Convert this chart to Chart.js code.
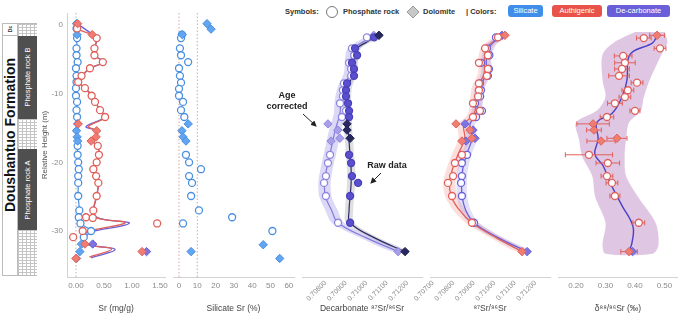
<!DOCTYPE html>
<html>
<head>
<meta charset="utf-8">
<script src="https://cdn.jsdelivr.net/npm/chart.js@4.4.0/dist/chart.umd.min.js"></script>
<style>
  body { margin: 0; width: 678px; height: 322px; position: relative; overflow: hidden; background: #fff;
         font-family: "Liberation Sans", Arial, sans-serif; }
  canvas { position: absolute; top: 0; }
  .abs { position: absolute; }
  .rot { position: absolute; transform: translate(-50%, -50%) rotate(-90deg); white-space: nowrap; }
  .hatch { position: absolute; left: 18px; width: 19px; background-color: #fff;
           background-image: linear-gradient(#c4c4c4 1px, transparent 1px), linear-gradient(90deg, #c4c4c4 1px, transparent 1px);
           background-size: 4px 3px; }
  .phos { position: absolute; left: 18px; width: 19px; background: #4f4f4f; }
  .lg { position: absolute; top: 6px; font-size: 7.5px; font-weight: bold; color: #333; line-height: 12px; }
  .badge { position: absolute; top: 5px; height: 12px; line-height: 12px; border-radius: 3px; color: #fff;
           font-size: 7.5px; text-align: center; }
  .note { position: absolute; font-size: 9px; font-weight: bold; color: #222; text-align: center; line-height: 11px; }
</style>
</head>
<body>

<!-- stratigraphic column -->
<div class="abs" style="left:2px;top:23px;width:35px;height:253px;border:1px solid #bbb;box-sizing:border-box;"></div>
<div class="abs" style="left:17px;top:23px;width:1px;height:253px;background:#bbb;"></div>
<div class="abs" style="left:2px;top:35px;width:16px;height:1px;background:#bbb;"></div>
<div class="rot" style="left:10px;top:29px;font-size:5px;font-weight:bold;color:#333;">Dc</div>
<div class="rot" style="left:10px;top:135px;font-size:14px;font-weight:bold;color:#111;">Doushantuo Formation</div>
<div class="hatch" style="top:24px;height:12px;"></div>
<div class="phos" style="top:36px;height:83px;"></div>
<div class="rot" style="left:27px;top:77px;font-size:7.5px;color:#fff;">Phosphate rock B</div>
<div class="hatch" style="top:119px;height:30px;"></div>
<div class="phos" style="top:149px;height:81px;"></div>
<div class="rot" style="left:27px;top:190px;font-size:7.5px;color:#fff;">Phosphate rock A</div>
<div class="hatch" style="top:230px;height:45px;"></div>

<!-- legend -->
<div class="lg" style="left:285px;">Symbols:</div>
<svg class="abs" style="left:325px;top:5px;" width="14" height="14"><circle cx="7" cy="7" r="5.5" fill="#fff" stroke="#777" stroke-width="1"/></svg>
<div class="lg" style="left:343px;">Phosphate rock</div>
<svg class="abs" style="left:406px;top:5px;" width="14" height="14"><polygon points="7,1 13,7 7,13 1,7" fill="#c8c8c8" stroke="#999" stroke-width="1"/></svg>
<div class="lg" style="left:423px;">Dolomite</div>
<div class="lg" style="left:466px;">| Colors:</div>
<div class="badge" style="left:508px;width:35px;background:#3f8fea;">Silicate</div>
<div class="badge" style="left:552px;width:50px;background:#e8524a;">Authigenic</div>
<div class="badge" style="left:607px;width:63px;background:#6a5fd8;">De-carbonate</div>

<canvas id="c1"></canvas>
<canvas id="c2"></canvas>
<canvas id="c3"></canvas>
<canvas id="c4"></canvas>
<canvas id="c5"></canvas>

<!-- annotations -->
<div class="note" style="left:262px;top:90px;width:50px;">Age<br>corrected</div>
<div class="note" style="left:362px;top:160px;width:50px;">Raw data</div>
<svg class="abs" style="left:0;top:0;" width="678" height="322">
  <defs><marker id="ah" markerWidth="6" markerHeight="6" refX="5" refY="3" orient="auto">
    <path d="M0,0 L6,3 L0,6 z" fill="#222"/></marker></defs>
  <line x1="303" y1="114" x2="316" y2="126" stroke="#222" stroke-width="1" marker-end="url(#ah)"/>
  <line x1="381" y1="173" x2="371" y2="183" stroke="#222" stroke-width="1" marker-end="url(#ah)"/>
</svg>

<script>
// ---- shared height axis (m) ----
const heightTicks = [0, -10, -20, -30];
const heightMin = -36.7;
const heightMax = 1.75;

// ---- panel 1: Sr (mg/g) ---- [height, value]
const srTicks = [0, 0.5, 1, 1.5];
const srAuthCircles = [[-0.5, 0.02], [-1.9, 0.37], [-3.4, 0.33], [-4.4, 0.33], [-5.4, 0.48], [-6.3, 0.25], [-7.4, 0.1],
  [-8.3, 0.04], [-9.2, 0.16], [-10.3, 0.28], [-11.2, 0.34], [-12.4, 0.43], [-13.4, 0.52], [-17.6, 0.39], [-18.9, 0.41],
  [-20, 0.37], [-21, 0.31], [-22, 0.36], [-23, 0.4], [-24.9, 0.37], [-27, 0.31], [-28, 0.18], [-28.1, 0.3],
  [-28.9, 1.45], [-30, 0.12], [-30.9, -0.05]];
const srAuthDiamonds = [[0.2, 0.03], [-1.4, 0.29], [-14.4, 0.04], [-15.4, 0.37], [-16.3, 0.36], [-16.9, 0.27],
  [-31.9, 0.16], [-33, 1.18], [-34, 0.0]];
const srSilCircles = [[-0.5, 0.01], [-1.9, 0.02], [-3.4, 0.01], [-4.4, 0.01], [-5.4, 0.03], [-6.3, 0.0], [-7.4, 0.01],
  [-8.3, 0.01], [-9.2, 0.0], [-10.3, 0.0], [-11.2, 0.02], [-12.4, 0.01], [-13.4, 0.02], [-17.6, 0.03], [-18.9, 0.03],
  [-20, 0.04], [-21, 0.05], [-22, 0.04], [-23, 0.04], [-24.9, 0.04], [-27, 0.06], [-28, 0.05], [-28.9, 0.08],
  [-30, 0.27], [-30.9, 0.14]];
const srSilDiamonds = [[0.2, 0.01], [-1.4, 0.02], [-14.4, 0.03], [-15.4, 0.01], [-16.3, 0.02], [-16.9, 0.03],
  [-31.9, 0.1], [-33, 0.07], [-34, 0.01]];
const srDecDiamonds = [[-31.9, 0.3], [-33, 1.26]];
const srAuthLine = [[0.2, 0.03], [-0.5, 0.02], [-1.4, 0.29], [-1.9, 0.37], [-3.4, 0.33], [-4.4, 0.33], [-5.4, 0.48],
  [-6.3, 0.25], [-7.4, 0.1], [-8.3, 0.04], [-9.2, 0.16], [-10.3, 0.28], [-11.2, 0.34], [-12.4, 0.43], [-13.4, 0.52],
  [-14.8, 0.22], [-15.4, 0.37], [-16.3, 0.36], [-16.9, 0.28], [-17.6, 0.39], [-18.9, 0.41], [-20, 0.37], [-21, 0.31],
  [-22, 0.36], [-23, 0.4], [-24.9, 0.37], [-27, 0.31], [-28.1, 0.37], [-28.8, 0.88], [-30.2, 0.16], [-31, 0.1],
  [-32, 0.2], [-32.6, 0.64], [-33.8, 0.24]];
const srDecLine = [[0.2, 0.02], [-1.4, 0.3], [-1.9, 0.37], [-3.4, 0.34], [-4.4, 0.34], [-5.4, 0.48], [-6.3, 0.26],
  [-7.4, 0.11], [-8.3, 0.05], [-9.2, 0.17], [-10.3, 0.29], [-11.2, 0.35], [-12.4, 0.43], [-13.4, 0.52], [-14.8, 0.18],
  [-15.4, 0.36], [-16.3, 0.37], [-16.9, 0.3], [-17.6, 0.39], [-18.9, 0.41], [-20, 0.38], [-21, 0.32], [-22, 0.36],
  [-23, 0.4], [-24.9, 0.37], [-27, 0.32], [-28.1, 0.39], [-28.9, 0.95], [-30.3, 0.18], [-31, 0.12], [-32, 0.24],
  [-32.7, 0.7], [-33.9, 0.27]];
const srRefLines = [0];

// ---- panel 2: silicate Sr (%) ----
const silTicks = [0, 10, 20, 30, 40, 50, 60];
const silCircles = [[-1.4, 1.6], [-1.9, 1.1], [-3.4, 0.5], [-4.4, 1.1], [-5.4, 5.0], [-6.3, 0], [-7.4, 0.5], [-8.4, 1.1],
  [-9.3, 0], [-10.3, 0], [-11.2, 2.2], [-12.4, 1.1], [-13.4, 2.9], [-18.9, 3.8], [-20, 5.5], [-21, 12], [-22, 5.5],
  [-23, 7.1], [-24.9, 6.6], [-27, 10.9], [-28, 29], [-28.9, 2.2], [-30, 51]];
const silDiamonds = [[0.2, 15.3], [-0.6, 17.5], [-1.4, 1.8], [-14.4, 5.0], [-15.4, 1.6], [-16.3, 2.2], [-16.9, 3.8],
  [-32, 46], [-33, 6.6], [-34, 55]];
const silRefLines = [0, 10];

// ---- panel 3: decarbonate 87Sr/86Sr ----
const decTicks = [0.708, 0.709, 0.71, 0.711, 0.712];
const rawCircles = [[-1.8, 0.71037], [-3.4, 0.70944], [-4.4, 0.70954], [-5.5, 0.70929], [-6.4, 0.70939], [-7.4, 0.70939],
  [-8.5, 0.70905], [-9.5, 0.709], [-10.4, 0.709], [-11.4, 0.7091], [-12.5, 0.70915], [-13.4, 0.70915], [-18.9, 0.70915],
  [-20.1, 0.70925], [-22, 0.70929], [-23, 0.70959], [-24.9, 0.7092], [-28.8, 0.7092]];
const rawDiamonds = [[-1.5, 0.71061], [-14.4, 0.70905], [-15.3, 0.70905], [-16.5, 0.7092], [-33, 0.71188]];
const ageCircles = [[-1.8, 0.71002], [-3.4, 0.70929], [-4.4, 0.7094], [-5.5, 0.70915], [-6.4, 0.70925], [-7.4, 0.70925],
  [-8.5, 0.7089], [-9.5, 0.70885], [-10.4, 0.70885], [-11.4, 0.70871], [-12.5, 0.709], [-13.4, 0.7088], [-18.9, 0.70822],
  [-20.1, 0.70812], [-22, 0.70802], [-23, 0.70793], [-24.9, 0.70802], [-28.8, 0.70861]];
const ageDiamonds = [[-1.5, 0.71035], [-14.4, 0.70812], [-15.3, 0.7086], [-16.5, 0.7087], [-16.9, 0.70827], [-33, 0.71154]];
const rawLine = [[-1.5, 0.71061], [-2.5, 0.71], [-3.5, 0.7095], [-5, 0.7094], [-7, 0.70935], [-9, 0.7091], [-11, 0.70905],
  [-13, 0.7091], [-15, 0.7091], [-17, 0.70915], [-19, 0.7092], [-21, 0.70925], [-23, 0.70925], [-25, 0.7092],
  [-27, 0.70915], [-28.8, 0.7092], [-31, 0.7104], [-33, 0.71188]];
const ageLine = [[-1.5, 0.71045], [-2.5, 0.7098], [-3.5, 0.70935], [-5, 0.70925], [-7, 0.7092], [-9, 0.7089],
  [-11, 0.70875], [-13, 0.7087], [-15, 0.7085], [-17, 0.70835], [-19, 0.7082], [-21, 0.70805], [-23, 0.70795],
  [-25, 0.708], [-27, 0.7083], [-28.8, 0.70861], [-31, 0.71], [-33, 0.71154]];
const rawBandHalf = 0.0002;
const ageBandHalf = 0.0003;

// ---- panel 4: 87Sr/86Sr ----
const isoTicks = [0.707, 0.708, 0.709, 0.71, 0.711, 0.712];
const authCircles = [[-1.8, 0.71017], [-3.4, 0.70954], [-4.4, 0.70968], [-5.5, 0.70924], [-6.4, 0.70968], [-7.4, 0.70963],
  [-8.5, 0.70924], [-9.5, 0.70924], [-10.4, 0.7092], [-11.4, 0.70895], [-12.5, 0.70929], [-13.4, 0.70895],
  [-18.9, 0.70841], [-20.1, 0.70807], [-22, 0.70798], [-23, 0.70773], [-24.9, 0.70793], [-28.8, 0.7089]];
const authDiamonds = [[-1.5, 0.71051], [-14.4, 0.70812], [-15.3, 0.7088], [-16.5, 0.7089], [-16.9, 0.70841], [-33, 0.71134]];
const decCircles = [[-1.8, 0.71007], [-3.4, 0.70963], [-4.4, 0.70975], [-5.5, 0.70934], [-6.4, 0.70973], [-7.4, 0.70968],
  [-8.5, 0.70929], [-9.5, 0.70934], [-10.4, 0.7093], [-11.4, 0.70905], [-12.5, 0.70939], [-13.4, 0.7091],
  [-18.9, 0.70866], [-20.1, 0.70841], [-22, 0.70841], [-23, 0.70837], [-24.9, 0.70841], [-28.8, 0.709]];
const decDiamonds = [[-1.5, 0.71037], [-14.4, 0.70856], [-15.3, 0.70895], [-16.5, 0.70905], [-16.9, 0.70861], [-33, 0.71159]];
const authLine = [[-1.5, 0.7105], [-3, 0.7097], [-5, 0.7095], [-7, 0.7095], [-9, 0.7092], [-11, 0.7091], [-13, 0.709],
  [-14.5, 0.7085], [-16.5, 0.70855], [-19, 0.7082], [-21, 0.70795], [-23, 0.7078], [-25, 0.7079], [-27, 0.7083],
  [-28.8, 0.7089], [-31, 0.7101], [-33, 0.71134]];
const decLine = [[-1.5, 0.7104], [-3, 0.7098], [-5, 0.7096], [-7, 0.7096], [-9, 0.7093], [-11, 0.7092], [-13, 0.7091],
  [-14.5, 0.7088], [-16.5, 0.7089], [-19, 0.70862], [-21, 0.70845], [-23, 0.7084], [-25, 0.70842], [-27, 0.7086],
  [-28.8, 0.709], [-31, 0.7102], [-33, 0.71159]];
const authBandHalf = 0.0003;
const decBandHalf = 0.00025;

// ---- panel 5: d88/86Sr (permil) ---- [height, value, error]
const dTicks = [0.2, 0.3, 0.4, 0.5];
const dCircles = [[-1.9, 0.43, 0.025], [-3.4, 0.485, 0.02], [-4.5, 0.36, 0.03], [-5.5, 0.366, 0.035], [-6.4, 0.356, 0.025],
  [-7.4, 0.346, 0.035], [-8.4, 0.407, 0.02], [-9.5, 0.376, 0.02], [-10.5, 0.366, 0.02], [-11.4, 0.332, 0.025],
  [-12.5, 0.4, 0.017], [-13.4, 0.305, 0.023], [-18.9, 0.244, 0.08], [-20.1, 0.308, 0.04], [-22, 0.305, 0.02],
  [-23, 0.322, 0.02], [-24.9, 0.332, 0.017], [-28.8, 0.413, 0.02]];
const dDiamonds = [[-1.5, 0.475, 0.025], [-14.4, 0.258, 0.055], [-15.3, 0.261, 0.025], [-16.5, 0.339, 0.034],
  [-16.9, 0.285, 0.048], [-33, 0.38, 0.028]];
const dDecDiamonds = [[-33, 0.392]];
const dLine = [[-1.5, 0.475], [-2.6, 0.46], [-4.3, 0.383], [-8, 0.373], [-10.5, 0.356], [-12.9, 0.322], [-14.2, 0.271],
  [-16.6, 0.275], [-18.8, 0.264], [-20.5, 0.292], [-22.9, 0.315], [-26.3, 0.356], [-29.3, 0.393], [-31.7, 0.39], [-33, 0.38]];
const dBand = [[-1.0, 0.40, 0.50], [-2.5, 0.33, 0.51], [-4.3, 0.29, 0.49], [-8, 0.29, 0.45], [-10.5, 0.30, 0.43],
  [-12.5, 0.27, 0.42], [-14.2, 0.20, 0.38], [-16.6, 0.21, 0.37], [-19, 0.22, 0.365], [-22, 0.255, 0.37],
  [-25, 0.265, 0.41], [-28.8, 0.30, 0.47], [-32, 0.29, 0.48], [-33.3, 0.30, 0.46]];

// ---- colours ----
const RED = "#e0605a", RED_FILL = "#ef7d72";
const BLUE = "#4a8fe0", BLUE_FILL = "#62a6f2";
const PURPLE = "#6a60d8", PURPLE_FILL = "#7d74e2";

// ---- dataset helpers ----
const pts = (arr) => arr.map((d) => ({ x: d[1], y: d[0] }));

function circles(data, stroke, fill, order) {
    return { data: pts(data), showLine: false, pointStyle: "circle", pointRadius: 3.5, pointBorderWidth: 1.3,
             pointBorderColor: stroke, pointBackgroundColor: fill || "#fff", order };
}
function diamonds(data, stroke, fill, order) {
    return { data: pts(data), showLine: false, pointStyle: "rectRot", pointRadius: 4.2, pointBorderWidth: 1,
             pointBorderColor: stroke, pointBackgroundColor: fill, order };
}
function trend(data, color, width, order) {
    return { data: pts(data), showLine: true, borderColor: color, borderWidth: width, pointRadius: 0,
             tension: 0.4, fill: false, order };
}
function shape(poly, color, order) {
    return { data: poly, showLine: true, borderWidth: 0, borderColor: "transparent", pointRadius: 0,
             tension: 0.3, fill: "shape", backgroundColor: color, order };
}
// band around a trend line with a given half width
function bandAround(line, half) {
    const left = line.map((d) => ({ x: d[1] - half, y: d[0] }));
    const right = line.map((d) => ({ x: d[1] + half, y: d[0] })).reverse();
    return left.concat(right);
}
function bandFrom(rows) {
    const left = rows.map((d) => ({ x: d[1], y: d[0] }));
    const right = rows.map((d) => ({ x: d[2], y: d[0] })).reverse();
    return left.concat(right);
}
function refLine(x, color) {
    return { data: [{ x, y: heightMax }, { x, y: heightMin }], showLine: true, borderColor: color, borderWidth: 1,
             borderDash: [1.5, 2], pointRadius: 0, order: 20 };
}
function errorBars(rows, color) {
    const data = [];
    rows.forEach((d) => {
        data.push({ x: d[1] - d[2], y: d[0] }, { x: d[1] + d[2], y: d[0] }, { x: null, y: null });
    });
    return { data, showLine: true, borderColor: color, borderWidth: 1, pointStyle: "line", rotation: 90,
             pointRadius: 2.5, pointBorderColor: color, pointBorderWidth: 1, order: 4 };
}

// ---- one chart per panel, sharing the height axis ----
function makePanel(id, plotLeft, plotW, opt) {
    const padL = opt.yAxis ? 30 : 28;
    const padR = 12;
    const cv = document.getElementById(id);
    cv.width = plotW + padL + padR;
    cv.height = 322;
    cv.style.left = (plotLeft - padL) + "px";

    new Chart(cv, {
        type: "line",
        data: { datasets: opt.datasets },
        options: {
            responsive: false,
            animation: false,
            events: [],
            layout: { padding: { top: 13, bottom: 0, left: opt.yAxis ? 0 : padL, right: padR } },
            plugins: { legend: { display: false }, tooltip: { enabled: false } },
            scales: {
                x: {
                    type: "linear",
                    min: opt.xMin,
                    max: opt.xMax,
                    grid: { display: false, drawTicks: false },
                    border: { display: true, color: "#d2d2d2" },
                    afterBuildTicks: (s) => { s.ticks = opt.xTicks.map((v) => ({ value: v })); },
                    afterFit: (s) => { s.height = 45; s.paddingLeft = 0; s.paddingRight = 0; },
                    ticks: {
                        color: "#8a8a8a", font: { size: opt.rot ? 7 : 8 }, padding: opt.rot ? 2 : 4, autoSkip: false,
                        minRotation: opt.rot || 0, maxRotation: opt.rot || 0, callback: opt.fmt,
                    },
                    title: { display: true, text: opt.title, color: "#444", font: { size: 8.5 },
                             padding: { top: 0, bottom: 8 } },
                },
                y: {
                    type: "linear",
                    display: !!opt.yAxis,
                    min: heightMin,
                    max: heightMax,
                    grid: { display: false, drawTicks: false },
                    border: { display: true, color: "#d2d2d2" },
                    afterBuildTicks: (s) => { s.ticks = heightTicks.map((v) => ({ value: v })); },
                    afterFit: (s) => {
                        if (opt.yAxis) { s.width = 30; } else { s.width = 0; }
                        s.paddingTop = 0; s.paddingBottom = 0;
                    },
                    ticks: { color: "#8a8a8a", font: { size: 8 }, padding: 4 },
                    title: { display: true, text: "Relative Height (m)", color: "#555", font: { size: 8 },
                             padding: { top: 3, bottom: 0 } },
                },
            },
        },
    });
}

// Sr concentration
makePanel("c1", 67, 98, {
    yAxis: true, xMin: -0.16, xMax: 1.59, xTicks: srTicks, fmt: (v) => v.toFixed(2), title: "Sr (mg/g)",
    datasets: [
        ...srRefLines.map((x) => refLine(x, "#b5b5b5")),
        trend(srSilCircles, BLUE, 1.2, 9),
        trend(srDecLine, PURPLE, 1.3, 8),
        trend(srAuthLine, RED, 1.3, 7),
        circles(srSilCircles, BLUE, "#fff", 6),
        diamonds(srSilDiamonds, BLUE, BLUE_FILL, 5),
        diamonds(srDecDiamonds, PURPLE, PURPLE_FILL, 4),
        circles(srAuthCircles, RED, "#fff", 3),
        diamonds(srAuthDiamonds, RED, RED_FILL, 2),
    ],
});

// silicate fraction
makePanel("c2", 173, 121, {
    xMin: -3.28, xMax: 62.8, xTicks: silTicks, fmt: (v) => String(v), title: "Silicate Sr (%)",
    datasets: [
        ...silRefLines.map((x) => refLine(x, "#d7a3a3")),
        circles(silCircles, BLUE, "#fff", 3),
        diamonds(silDiamonds, BLUE, BLUE_FILL, 2),
    ],
});

// decarbonate isotopes, raw vs age corrected
makePanel("c3", 302, 120, {
    xMin: 0.706854, xMax: 0.712707, xTicks: decTicks, fmt: (v) => v.toFixed(5), rot: 45,
    title: "Decarbonate \u2078\u2077Sr/\u2078\u2076Sr",
    datasets: [
        shape(bandAround(ageLine, ageBandHalf), "rgba(140,130,225,0.3)", 12),
        shape(bandAround(rawLine, rawBandHalf), "rgba(110,110,125,0.22)", 11),
        trend(ageLine, "#8279dc", 1.2, 9),
        trend(rawLine, "#2e2a66", 1.2, 8),
        circles(ageCircles, "#8f86dd", "#fff", 6),
        diamonds(ageDiamonds, "#8f86dd", "#a79fe8", 5),
        circles(rawCircles, "#4a40b8", "#5a4fcf", 4),
        diamonds(rawDiamonds, "#1f2152", "#27295e", 3),
    ],
});

// authigenic vs decarbonate isotopes
makePanel("c4", 430, 120, {
    xMin: 0.706854, xMax: 0.712707, xTicks: isoTicks, fmt: (v) => v.toFixed(5), rot: 45,
    title: "\u2078\u2077Sr/\u2078\u2076Sr",
    datasets: [
        shape(bandAround(authLine, authBandHalf), "rgba(240,110,100,0.22)", 12),
        shape(bandAround(decLine, decBandHalf), "rgba(110,100,220,0.2)", 11),
        trend(decLine, PURPLE, 1.3, 9),
        trend(authLine, RED, 1.3, 8),
        circles(decCircles, PURPLE, "#fff", 6),
        diamonds(decDiamonds, PURPLE, PURPLE_FILL, 5),
        circles(authCircles, RED, "#fff", 4),
        diamonds(authDiamonds, RED, RED_FILL, 3),
    ],
});

// stable Sr isotopes
makePanel("c5", 558, 120, {
    xMin: 0.139, xMax: 0.546, xTicks: dTicks, fmt: (v) => v.toFixed(2), title: "\u03b4\u2078\u2078/\u2078\u2076Sr (\u2030)",
    datasets: [
        shape(bandFrom(dBand), "rgba(170,105,180,0.38)", 12),
        trend(dLine, "#4a3fc8", 1.4, 9),
        errorBars(dCircles.concat(dDiamonds), RED),
        diamonds(dDecDiamonds, PURPLE, PURPLE_FILL, 3),
        circles(dCircles, RED, "#fff", 2),
        diamonds(dDiamonds, RED, RED_FILL, 1),
    ],
});
</script>
</body>
</html>
